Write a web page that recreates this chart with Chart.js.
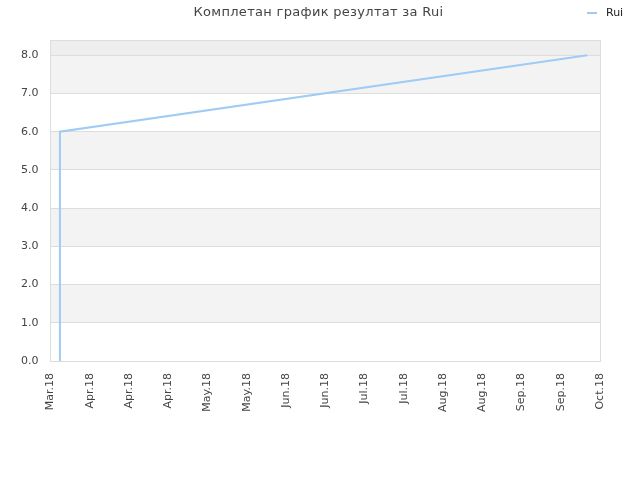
<!DOCTYPE html>
<html>
<head>
<meta charset="utf-8">
<script src="https://cdn.jsdelivr.net/npm/chart.js@4/dist/chart.umd.min.js"></script>
<style>
  html, body { margin: 0; padding: 0; background: #fff; }
  #wrap { width: 640px; height: 480px; }
</style>
</head>
<body>
<div id="wrap"><canvas id="grafico"></canvas></div>
<script>
const chartTitle = 'Комплетан график резултат за Rui';
const seriesName = 'Rui';
// x labels, one per tick step on the time axis
const xTickLabels = ['Mar.18', 'Apr.18', 'Apr.18', 'Apr.18', 'May.18', 'May.18', 'Jun.18', 'Jun.18',
  'Jul.18', 'Jul.18', 'Aug.18', 'Aug.18', 'Sep.18', 'Sep.18', 'Oct.18'];
// point positions in tick steps, and their values
const pointX = [0.22, 0.24, 13.68];
const pointY = [0, 6, 8];
const yTicks = [0, 1, 2, 3, 4, 5, 6, 7, 8];

const lineColor = '#9fcbf5';
const gridColor = '#dddddd';

// alternating bands, border, title and legend
const bandsPlugin = {
  id: 'bands',
  beforeDraw(chart) {
    const { ctx, chartArea: a, scales: { y } } = chart;
    ctx.save();
    ctx.fillStyle = '#ffffff';
    ctx.fillRect(a.left, a.top, a.right - a.left, a.bottom - a.top);
    for (let i = 0; i < yTicks.length; i++) {
      const lo = yTicks[i];
      const hi = i + 1 < yTicks.length ? yTicks[i + 1] : y.max;
      const top = y.getPixelForValue(hi), bot = y.getPixelForValue(lo);
      if (i === yTicks.length - 1) ctx.fillStyle = '#eeeeee';
      else if (i % 2 === 1) ctx.fillStyle = '#f3f3f3';
      else continue;
      ctx.fillRect(a.left, top, a.right - a.left, bot - top);
    }
    ctx.restore();
  },
  afterDraw(chart) {
    const { ctx, chartArea: a } = chart;
    ctx.save();
    ctx.strokeStyle = gridColor;
    ctx.lineWidth = 1;
    ctx.strokeRect(Math.round(a.left) + 0.5, Math.round(a.top) + 0.5,
      Math.round(a.right - a.left), Math.round(a.bottom - a.top));
    // title
    ctx.fillStyle = '#444';
    ctx.font = '13px "DejaVu Sans"';
    ctx.letterSpacing = '0.3px';
    ctx.textAlign = 'center';
    ctx.textBaseline = 'middle';
    ctx.fillText(chartTitle, 318.5, 13);
    ctx.letterSpacing = '0px';
    // legend, top right
    const ds = chart.data.datasets[0];
    ctx.strokeStyle = ds.borderColor;
    ctx.lineWidth = 2;
    ctx.beginPath();
    ctx.moveTo(587, 13);
    ctx.lineTo(597, 13);
    ctx.stroke();
    ctx.fillStyle = '#222';
    ctx.font = '11px "DejaVu Sans"';
    ctx.textAlign = 'left';
    ctx.fillText(ds.label, 606, 13);
    ctx.restore();
  }
};

new Chart(document.getElementById('grafico'), {
  type: 'line',
  data: {
    datasets: [{
      label: seriesName,
      data: pointX.map((x, i) => ({ x: x, y: pointY[i] })),
      borderColor: lineColor,
      borderWidth: 2,
      pointRadius: 0,
      fill: false,
      tension: 0
    }]
  },
  options: {
    responsive: true,
    maintainAspectRatio: false,
    animation: false,
    layout: { padding: { left: 9, right: 40, top: 40, bottom: 64 } },
    plugins: {
      legend: { display: false },
      tooltip: { enabled: false },
      title: { display: false }
    },
    scales: {
      x: {
        type: 'linear',
        min: 0,
        max: xTickLabels.length - 1,
        afterBuildTicks(scale) {
          scale.ticks = xTickLabels.map((_, i) => ({ value: i }));
        },
        grid: { display: false },
        border: { display: false },
        ticks: {
          autoSkip: false,
          maxRotation: 90,
          minRotation: 90,
          color: '#444',
          font: { family: 'DejaVu Sans', size: 11 },
          padding: 4,
          callback: (v, i) => xTickLabels[i]
        }
      },
      y: {
        min: 0,
        max: 8.4,
        afterBuildTicks(scale) {
          scale.ticks = yTicks.map(v => ({ value: v }));
        },
        grid: { color: gridColor, drawTicks: false },
        border: { display: false },
        ticks: {
          color: '#444',
          font: { family: 'DejaVu Sans', size: 11 },
          padding: 12,
          callback: v => v.toFixed(1)
        }
      }
    }
  },
  plugins: [bandsPlugin]
});
</script>
</body>
</html>
